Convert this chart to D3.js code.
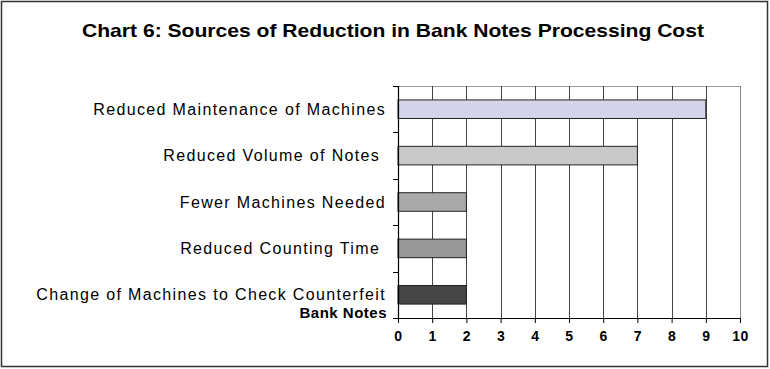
<!DOCTYPE html>
<html>
<head>
<meta charset="utf-8">
<script src="https://cdn.jsdelivr.net/npm/d3@7"></script>
<style>
  html, body { margin: 0; padding: 0; background: #fff; }
  svg { display: block; font-family: Arial, "Liberation Sans", sans-serif; }
</style>
</head>
<body>
<svg id="chart" width="770" height="369"></svg>
<script>
// Sources of reduction, listed top to bottom
const categories = [
  "Reduced Maintenance of Machines",
  "Reduced Volume of Notes ",
  "Fewer Machines Needed",
  "Reduced Counting Time ",
  "Change of Machines to Check Counterfeit|Bank Notes"
];
const values = [9, 7, 2, 2, 2];
const barColors = ["#d4d4ea", "#c9c9c9", "#a9a9a9", "#999999", "#464646"];
const xTicks = [0, 1, 2, 3, 4, 5, 6, 7, 8, 9, 10];
const title = "Chart 6: Sources of Reduction in Bank Notes Processing Cost";

const W = 770, H = 369;
const margin = { left: 398, right: 30, top: 86, bottom: 51 };
const svg = d3.select("#chart");

// outer frame
svg.append("rect")
  .attr("x", 1.5).attr("y", 1.5)
  .attr("width", W - 4).attr("height", H - 4)
  .attr("fill", "none").attr("stroke", "#333").attr("stroke-width", 1.5);

// title
svg.append("text")
  .attr("x", 393).attr("y", 37)
  .attr("text-anchor", "middle")
  .attr("font-size", 18.5).attr("font-weight", "bold")
  .attr("textLength", 622).attr("lengthAdjust", "spacingAndGlyphs")
  .text(title);

const x = d3.scaleLinear().domain([0, 10]).range([margin.left, W - margin.right]);
const y = d3.scaleBand().domain(categories)
  .range([margin.top, H - margin.bottom])
  .paddingInner(0.6).paddingOuter(0.3);

const plotTop = margin.top, plotBottom = H - margin.bottom;

// top edge of the plot area
svg.append("line")
  .attr("x1", x(0)).attr("x2", x(10))
  .attr("y1", plotTop + 0.5).attr("y2", plotTop + 0.5)
  .attr("stroke", "#999").attr("stroke-width", 1);

// vertical gridlines
svg.append("g").selectAll("line")
  .data(xTicks.filter(d => d > 0))
  .join("line")
  .attr("x1", d => Math.round(x(d)) + 0.5).attr("x2", d => Math.round(x(d)) + 0.5)
  .attr("y1", plotTop).attr("y2", plotBottom)
  .attr("stroke", d => d === 10 ? "#888" : "#444").attr("stroke-width", 1);

// bars
svg.append("g").selectAll("rect")
  .data(categories)
  .join("rect")
  .attr("x", x(0))
  .attr("y", d => y(d))
  .attr("width", (d, i) => x(values[i]) - x(0))
  .attr("height", y.bandwidth())
  .attr("fill", (d, i) => barColors[i])
  .attr("stroke", "#222").attr("stroke-width", 1);

// x axis
const xAxis = svg.append("g")
  .attr("transform", `translate(0,${plotBottom})`)
  .call(d3.axisBottom(x).tickValues(xTicks).tickSize(5).tickPadding(8).tickFormat(d3.format("d")));
xAxis.select(".domain").attr("stroke", "#000");
xAxis.selectAll(".tick line").attr("stroke", "#000");
xAxis.selectAll("text")
  .attr("font-size", 14).attr("font-weight", "bold")
  .attr("font-family", "Arial, 'Liberation Sans', sans-serif").attr("fill", "#000")
  .style("letter-spacing", "0.5px");

// y axis: ticks sit at the band boundaries
const yLine = svg.append("g");
yLine.append("line")
  .attr("x1", x(0) + 0.5).attr("x2", x(0) + 0.5)
  .attr("y1", plotTop).attr("y2", plotBottom)
  .attr("stroke", "#000").attr("stroke-width", 1.2);
const step = (plotBottom - plotTop) / categories.length;
yLine.selectAll("line.tk")
  .data(d3.range(categories.length + 1))
  .join("line").attr("class", "tk")
  .attr("x1", x(0) - 5).attr("x2", x(0))
  .attr("y1", i => Math.round(plotTop + i * step) + 0.5)
  .attr("y2", i => Math.round(plotTop + i * step) + 0.5)
  .attr("stroke", "#000");

// category labels; a second line, when present, is set in bold
const labels = svg.append("g").attr("text-anchor", "end").attr("fill", "#000");
categories.forEach((c, i) => {
  const parts = c.split("|");
  const cy = y(c) + y.bandwidth() / 2;
  parts.forEach((p, j) => {
    labels.append("text")
      .attr("x", j > 0 ? 387 : 386)
      .attr("y", cy + j * 18)
      .attr("dy", "0.35em")
      .attr("font-size", j > 0 ? 15 : 16)
      .attr("font-weight", j > 0 ? "bold" : "normal")
      .style("white-space", "pre")
      .style("letter-spacing", j > 0 ? "0.5px" : "1.35px")
      .text(p);
  });
});
</script>
</body>
</html>
